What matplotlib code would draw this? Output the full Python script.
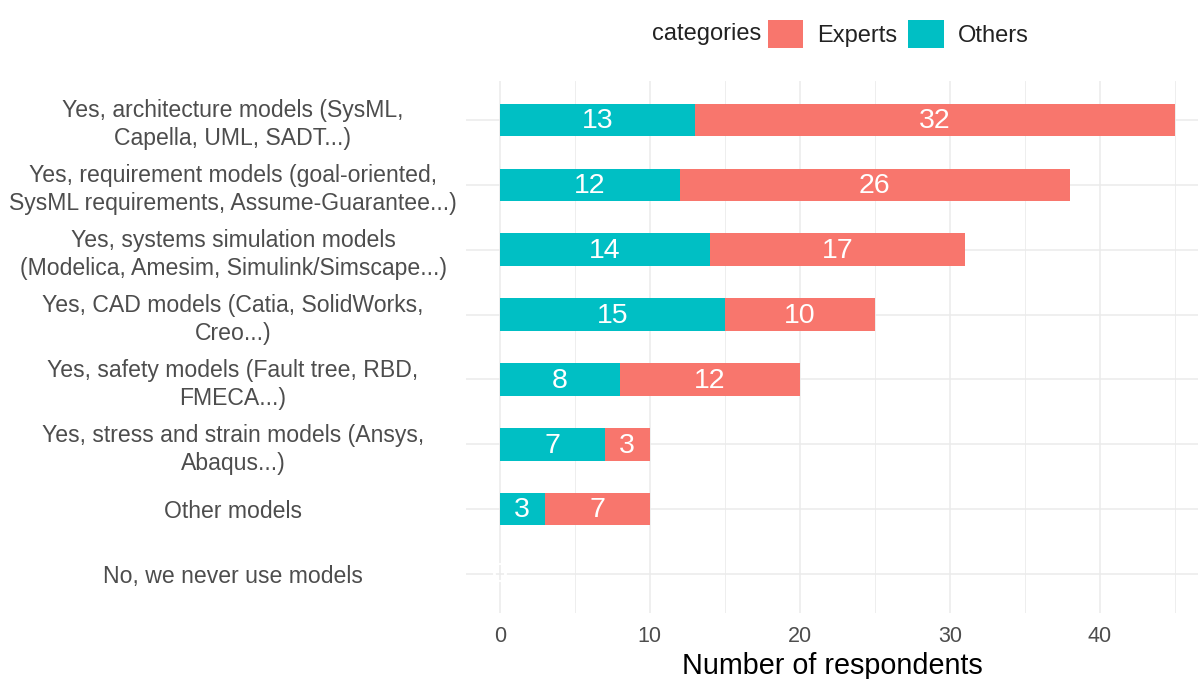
import matplotlib
matplotlib.use("Agg")
import matplotlib.pyplot as plt
from matplotlib.patches import Patch

plt.rcParams['font.family'] = ['Liberation Sans', 'DejaVu Sans']

categories = [
    "Yes, architecture models (SysML,\nCapella, UML, SADT...)",
    "Yes, requirement models (goal-oriented,\nSysML requirements, Assume-Guarantee...)",
    "Yes, systems simulation models\n(Modelica, Amesim, Simulink/Simscape...)",
    "Yes, CAD models (Catia, SolidWorks,\nCreo...)",
    "Yes, safety models (Fault tree, RBD,\nFMECA...)",
    "Yes, stress and strain models (Ansys,\nAbaqus...)",
    "Other models",
    "No, we never use models",
]
others = [13, 12, 14, 15, 8, 7, 3, 0]
experts = [32, 26, 17, 10, 12, 3, 7, 0]
xticks = [0, 10, 20, 30, 40]

C_EXP = "#F8766D"
C_OTH = "#00BFC4"

W, H = 1198, 679
fig = plt.figure(figsize=(W / 100, H / 100), dpi=100)
ax = fig.add_axes([466 / W, 1 - 613 / H, (W - 466) / W, (613 - 81) / H])

ypos = list(range(len(categories)))
ax.barh(ypos, others, height=0.5, color=C_OTH, zorder=3)
ax.barh(ypos, experts, left=others, height=0.5, color=C_EXP, zorder=3)

for y, o, e in zip(ypos, others, experts):
    ax.text(o / 2, y + 0.02, str(o), ha='center', va='center', color='white', fontsize=20.5, zorder=4)
    ax.text(o + e / 2, y + 0.02, str(e), ha='center', va='center', color='white', fontsize=20.5, zorder=4)

ax.set_ylim(len(categories) - 1 + 0.6, -0.6)
ax.set_xlim(-2.25, -2.25 + (W - 466) / 15.0)

ax.set_xticks(xticks)
ax.set_xticks([5, 15, 25, 35, 45], minor=True)
ax.set_yticks(ypos)
ax.set_yticklabels(categories, ha='center', fontsize=16.6, color='#4D4D4D', linespacing=1.27)
for lbl in ax.get_yticklabels():
    lbl.set_va('center_baseline')
ax.tick_params(axis='y', length=0, pad=(466 - 233) * 0.72)
ax.tick_params(axis='x', which='both', length=0, pad=9, labelsize=15.5, labelcolor='#4D4D4D')

ax.grid(True, which='major', color='#EBEBEB', linewidth=1.1, zorder=0)
ax.grid(True, which='minor', axis='x', color='#EBEBEB', linewidth=0.6, zorder=0)
for s in ax.spines.values():
    s.set_visible(False)

ax.set_xlabel("Number of respondents", fontsize=20.7, color='black', labelpad=4)

fig.text(652 / W, 1 - 34 / H, "categories", ha='left', va='center', fontsize=17, color='#222222')
handles = [Patch(facecolor=C_EXP, edgecolor='none'), Patch(facecolor=C_OTH, edgecolor='none')]
fig.legend(handles, ["Experts", "Others"], loc='center left',
           bbox_to_anchor=(768 / W, 1 - 34 / H), ncol=2, frameon=False,
           fontsize=17, handlelength=1.5, handleheight=1.5,
           handletextpad=0.6, columnspacing=0.45, borderaxespad=0, borderpad=0,
           labelcolor='#222222')

fig.savefig("out.png", dpi=100)
